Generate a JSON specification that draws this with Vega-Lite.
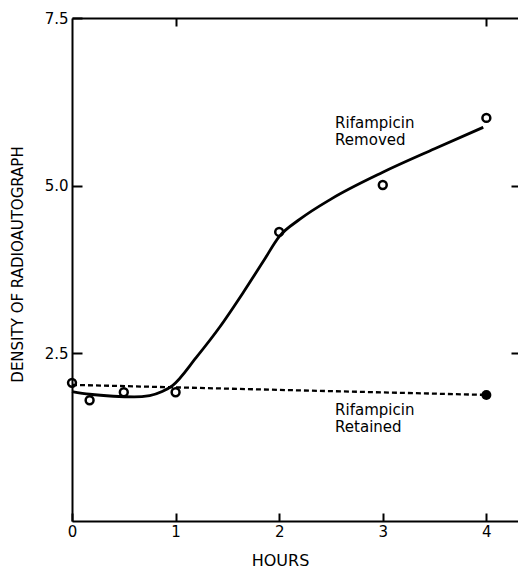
{
  "$schema": "https://vega.github.io/schema/vega-lite/v6.json",
  "width": 447,
  "height": 503,
  "autosize": "none",
  "padding": {"left": 72, "top": 18, "right": 0, "bottom": 47},
  "config": {
    "view": {"stroke": null},
    "font": "DejaVu Sans",
    "axis": {
      "domainColor": "black",
      "domainWidth": 2,
      "tickColor": "black",
      "tickWidth": 2,
      "labelColor": "black",
      "titleColor": "black",
      "labelFont": "DejaVu Sans",
      "labelFontSize": 15,
      "titleFont": "DejaVu Sans",
      "titleFontWeight": "normal",
      "grid": false
    }
  },
  "datasets": {
    "curve": [
      {"hours": 0, "density": 1.93},
      {"hours": 0.17, "density": 1.89},
      {"hours": 0.4, "density": 1.86},
      {"hours": 0.6, "density": 1.85},
      {"hours": 0.75, "density": 1.87},
      {"hours": 0.87, "density": 1.93},
      {"hours": 0.97, "density": 2.02},
      {"hours": 1.2, "density": 2.44},
      {"hours": 1.43, "density": 2.9},
      {"hours": 1.65, "density": 3.4},
      {"hours": 1.85, "density": 3.88},
      {"hours": 2.0, "density": 4.24},
      {"hours": 2.2, "density": 4.5},
      {"hours": 2.5, "density": 4.8},
      {"hours": 3.0, "density": 5.2},
      {"hours": 3.5, "density": 5.55},
      {"hours": 3.97, "density": 5.87}
    ],
    "retained": [
      {"hours": 0, "density": 2.03},
      {"hours": 4, "density": 1.88}
    ],
    "removedPoints": [
      {"hours": 0, "density": 2.06},
      {"hours": 0.17, "density": 1.8},
      {"hours": 0.5, "density": 1.92},
      {"hours": 1.0, "density": 1.92},
      {"hours": 2.0, "density": 4.31},
      {"hours": 3.0, "density": 5.01},
      {"hours": 4.0, "density": 6.01}
    ],
    "retainedPoints": [
      {"hours": 4.0, "density": 1.88}
    ],
    "labels": [
      {"hours": 2.54, "density": 5.86, "label": "Rifampicin\nRemoved"},
      {"hours": 2.54, "density": 1.58, "label": "Rifampicin\nRetained"}
    ]
  },
  "layer": [
    {
      "data": {"name": "curve"},
      "mark": {"type": "line", "interpolate": "monotone", "color": "black", "strokeWidth": 2.8},
      "encoding": {
        "x": {
          "field": "hours", "type": "quantitative",
          "scale": {"domain": [0, 4.315], "nice": false, "zero": false},
          "axis": {
            "orient": "bottom", "values": [0, 1, 2, 3, 4], "format": "d", "tickSize": -8,
            "labelPadding": 11, "labelFontSize": 15, "labelFlush": false,
            "title": "HOURS", "titleFontSize": 16,
            "titleX": 208, "titleY": 44, "titleBaseline": "alphabetic", "titleAnchor": "middle"
          }
        },
        "y": {
          "field": "density", "type": "quantitative",
          "scale": {"domain": [0, 7.5], "nice": false, "zero": false},
          "axis": {
            "orient": "left", "values": [2.5, 5, 7.5], "format": ".1f", "tickSize": -10,
            "labelPadding": 14, "labelFontSize": 15, "labelFlush": false,
            "title": "DENSITY OF RADIOAUTOGRAPH", "titleFontSize": 15,
            "titleX": -55, "titleY": 246, "titleBaseline": "middle", "titleAnchor": "middle"
          }
        }
      }
    },
    {
      "data": {"name": "retained"},
      "mark": {"type": "line", "color": "black", "strokeWidth": 2.3, "strokeDash": [5, 3]},
      "encoding": {
        "x": {
          "field": "hours", "type": "quantitative",
          "axis": {"orient": "top", "values": [1, 4], "labels": false, "title": null, "tickSize": -8}
        },
        "y": {
          "field": "density", "type": "quantitative",
          "axis": {"orient": "right", "values": [2.5, 5], "labels": false, "title": null, "tickSize": -8, "domain": false}
        }
      }
    },
    {
      "data": {"name": "removedPoints"},
      "mark": {"type": "point", "shape": "circle", "filled": false, "color": "black", "strokeWidth": 2.5, "size": 62, "opacity": 1},
      "encoding": {
        "x": {"field": "hours", "type": "quantitative", "axis": null},
        "y": {"field": "density", "type": "quantitative", "axis": null}
      }
    },
    {
      "data": {"name": "retainedPoints"},
      "mark": {"type": "point", "shape": "circle", "filled": true, "color": "black", "size": 100, "opacity": 1},
      "encoding": {
        "x": {"field": "hours", "type": "quantitative", "axis": null},
        "y": {"field": "density", "type": "quantitative", "axis": null}
      }
    },
    {
      "data": {"name": "labels"},
      "mark": {"type": "text", "align": "left", "baseline": "alphabetic", "fontSize": 15, "lineBreak": "\n", "lineHeight": 17, "color": "black", "font": "DejaVu Sans"},
      "encoding": {
        "x": {"field": "hours", "type": "quantitative", "axis": null},
        "y": {"field": "density", "type": "quantitative", "axis": null},
        "text": {"field": "label"}
      }
    }
  ],
  "resolve": {"axis": {"x": "independent", "y": "independent"}}
}
